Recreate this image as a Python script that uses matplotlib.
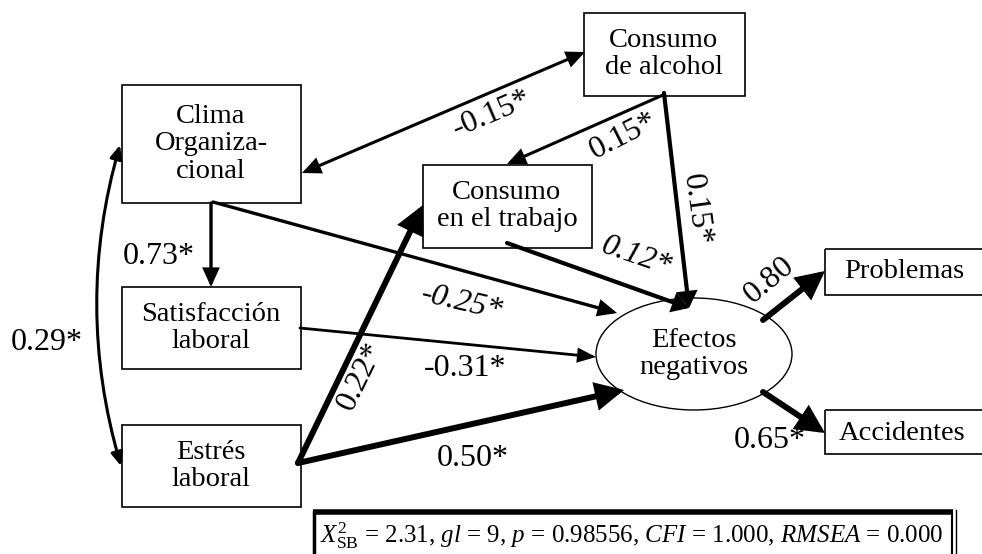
import matplotlib.pyplot as plt
from matplotlib.patches import Rectangle, Ellipse, FancyArrowPatch
from matplotlib.path import Path

plt.rcParams['font.family'] = ['Liberation Serif', 'DejaVu Serif']
plt.rcParams['mathtext.fontset'] = 'custom'
plt.rcParams['mathtext.rm'] = 'Liberation Serif'
plt.rcParams['mathtext.it'] = 'Liberation Serif:italic'

# variables observadas (cajas) y latente
box_labels = ['Clima\nOrganiza-\ncional', 'Satisfacción\nlaboral', 'Estrés\nlaboral',
              'Consumo\nde alcohol', 'Consumo\nen el trabajo', 'Problemas', 'Accidentes']
latent_label = 'Efectos\nnegativos'

# coeficientes estandarizados
coef_clima_satisf = '0.73*'
coef_clima_estres = '0.29*'
coef_clima_alcohol = '-0.15*'
coef_alcohol_trabajo = '0.15*'
coef_alcohol_efectos = '0.15*'
coef_trabajo_efectos = '0.12*'
coef_clima_efectos = '-0.25*'
coef_satisf_efectos = '-0.31*'
coef_estres_trabajo = '0.22*'
coef_estres_efectos = '0.50*'
coef_efectos_problemas = '0.80'
coef_efectos_accidentes = '0.65*'

fit_text = (r'$X^2_{\rm SB}$ = 2.31, $gl$ = 9, $p$ = 0.98556, '
            r'$CFI$ = 1.000, $RMSEA$ = 0.000')

# geometria (pixeles)
boxes = [(122, 85, 301, 203), (122, 287, 301, 369), (122, 425, 301, 507),
         (584, 13, 745, 96), (423, 165, 592, 248), (825, 249, 985, 295),
         (825, 410, 985, 454)]
text_pos = [(211, 144), (211, 328), (211, 466), (664, 54), (507, 206),
            (904, 272), (902, 433)]

fig = plt.figure(figsize=(9.82, 5.54), dpi=100)
ax = fig.add_axes([0, 0, 1, 1])
ax.set_xlim(0, 982)
ax.set_ylim(554, 0)
ax.axis('off')

for (x0, y0, x1, y1), lab, (tx, ty) in zip(boxes, box_labels, text_pos):
    ax.add_patch(Rectangle((x0, y0), x1 - x0, y1 - y0, fill=False, lw=1.2, ec='black'))
    ax.text(tx, ty, lab, ha='center', va='center', fontsize=20.5, linespacing=1.12)

ax.add_patch(Ellipse((694, 354), 196, 112, fill=False, lw=1.0, ec='black'))
ax.text(694, 354, latent_label, ha='center', va='center', fontsize=20.5, linespacing=1.12)


def arrow(p0, p1, lw, hl, hw, style='-|>'):
    a = FancyArrowPatch(p0, p1, arrowstyle=f'{style},head_length={hl},head_width={hw}',
                        mutation_scale=10, lw=lw, color='black',
                        shrinkA=0, shrinkB=0, joinstyle='miter')
    ax.add_patch(a)


arrow((302, 173), (585, 52), 2.2, 1.0, 0.45, '<|-|>')
arrow((663, 95), (507, 164), 2.2, 1.0, 0.45)
arrow((664, 93), (689, 308), 3.0, 0.8, 0.5)
arrow((507, 243), (689, 308), 3.0, 0.8, 0.5)
arrow((213, 202), (617, 313), 2.4, 1.0, 0.45)
arrow((211, 203), (211, 287), 2.4, 1.0, 0.45)
arrow((300, 328), (596, 357), 2.0, 1.0, 0.4)
arrow((298, 463), (423, 205), 4.3, 1.4, 0.7)
arrow((298, 463), (624, 390), 4.3, 1.4, 0.7)
arrow((763, 320), (825, 271), 4.3, 1.4, 0.7)
arrow((763, 392), (825, 433), 4.3, 1.4, 0.7)

# correlacion curva clima - estres
curve = Path([(120, 145), (74, 305), (121, 466)], [Path.MOVETO, Path.CURVE3, Path.CURVE3])
ax.add_patch(FancyArrowPatch(path=curve, arrowstyle='<|-|>,head_length=0.8,head_width=0.35',
                             mutation_scale=10, lw=2.2, color='black'))

fs = 23
ax.text(159, 257, coef_clima_satisf, ha='center', va='center', fontsize=fs)
ax.text(47, 343, coef_clima_estres, ha='center', va='center', fontsize=fs)
ax.text(492, 114, coef_clima_alcohol, ha='center', va='center', fontsize=fs, rotation=23)
ax.text(623, 136, coef_alcohol_trabajo, ha='center', va='center', fontsize=fs, rotation=27)
ax.text(696, 210, coef_alcohol_efectos, ha='center', va='center', fontsize=fs, rotation=-82)
ax.text(636, 257, coef_trabajo_efectos, ha='center', va='center', fontsize=fs,
        rotation=-19, style='italic')
ax.text(462, 303, coef_clima_efectos, ha='center', va='center', fontsize=fs,
        rotation=-13, style='italic')
ax.text(465, 368, coef_satisf_efectos, ha='center', va='center', fontsize=fs)
ax.text(361, 376, coef_estres_trabajo, ha='center', va='center', fontsize=fs, rotation=64)
ax.text(473, 458, coef_estres_efectos, ha='center', va='center', fontsize=fs)
ax.text(769, 280, coef_efectos_problemas, ha='center', va='center', fontsize=fs, rotation=40)
ax.text(770, 440, coef_efectos_accidentes, ha='center', va='center', fontsize=fs)

# recuadro de ajuste
ax.add_patch(Rectangle((314, 512), 638, 45, fill=False, lw=1.5, ec='black'))
ax.plot([313, 953], [512, 512], color='black', lw=4, solid_capstyle='butt')
ax.plot([314, 314], [512, 556], color='black', lw=2.5)
ax.plot([956, 956], [510, 556], color='black', lw=1.0)
ax.text(320, 536, fit_text, ha='left', va='center', fontsize=18)

fig.savefig('out.png', dpi=100)
